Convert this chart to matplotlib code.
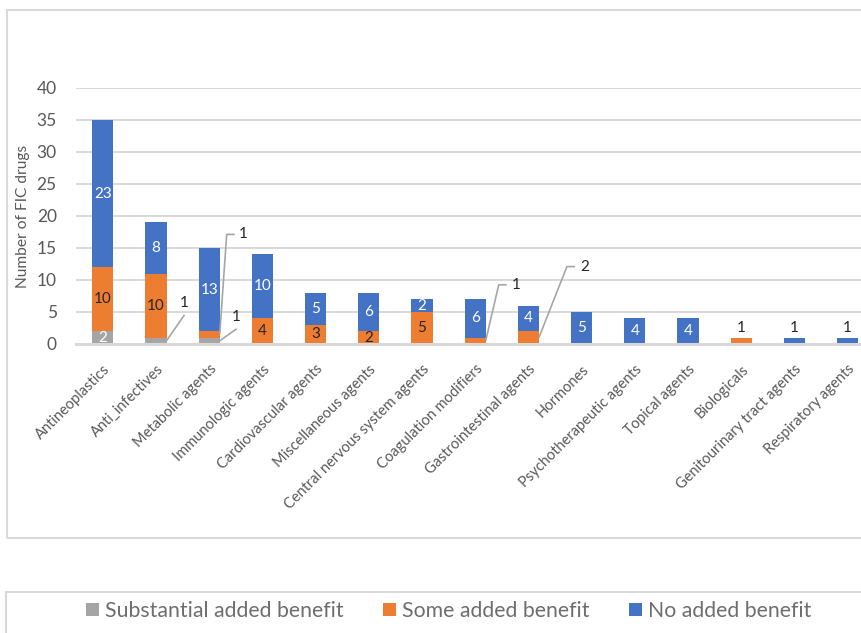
import matplotlib
matplotlib.use("Agg")
import matplotlib.pyplot as plt
from matplotlib.patches import Patch, Rectangle
import numpy as np

categories = [
    "Antineoplastics", "Anti_infectives", "Metabolic agents", "Immunologic agents",
    "Cardiovascular agents", "Miscellaneous agents", "Central nervous system agents",
    "Coagulation modifiers", "Gastrointestinal agents", "Hormones",
    "Psychotherapeutic agents", "Topical agents", "Biologicals",
    "Genitourinary tract agents", "Respiratory agents",
]
substantial = [2, 1, 1, 0, 0, 0, 0, 0, 0, 0, 0, 0, 0, 0, 0]
some = [10, 10, 1, 4, 3, 2, 5, 1, 2, 0, 0, 0, 1, 0, 0]
none_added = [23, 8, 13, 10, 5, 6, 2, 6, 4, 5, 4, 4, 0, 1, 1]
series_names = ["Substantial added benefit", "Some added benefit", "No added benefit"]
y_ticks = [0, 5, 10, 15, 20, 25, 30, 35, 40]

colors = ["#A5A5A5", "#ED7D31", "#4472C4"]
label_colors = ["white", "#262626", "white"]
text_grey = "#595959"
legend_grey = "#6E6E6E"
grid_grey = "#D9D9D9"
FONT = "Lato"

plt.rcParams["font.family"] = [FONT, "DejaVu Sans"]

W, H = 862, 633
fig = plt.figure(figsize=(W / 100, H / 100), dpi=100)

# plot area in pixel geometry (extends slightly past the right edge)
left_px, right_px, top_px, bottom_px = 76.2, 874.2, 88.0, 344.0
plot_w = right_px - left_px
ax = fig.add_axes([left_px / W, 1 - bottom_px / H,
                   plot_w / W, (bottom_px - top_px) / H])

x = np.arange(len(categories))
bar_w = 0.395
data = [substantial, some, none_added]
bottoms = np.zeros(len(categories))
bars = []
for vals, c in zip(data, colors):
    ax.bar(x, vals, bar_w, bottom=bottoms, color=c, zorder=3, linewidth=0)
    bars.append((np.array(vals), bottoms.copy()))
    bottoms += np.array(vals)

ax.set_xlim(-0.5, len(categories) - 0.5)
ax.set_ylim(0, 40)
ax.set_yticks(y_ticks)
ax.yaxis.grid(True, color=grid_grey, linewidth=1.4, zorder=0)
ax.set_axisbelow(True)
for s in ["top", "right", "left"]:
    ax.spines[s].set_visible(False)
ax.spines["bottom"].set_color(grid_grey)
ax.spines["bottom"].set_linewidth(2.2)
ax.spines["bottom"].set_zorder(4)
ax.tick_params(axis="both", length=0, colors=text_grey, labelsize=12.5)
ax.tick_params(axis="y", pad=14)
ax.set_xticks(x)
ax.set_xticklabels(categories, rotation=45, ha="right", rotation_mode="anchor",
                   fontsize=10.5, color=text_grey)
ax.tick_params(axis="x", pad=13)
ax.set_ylabel("Number of FIC drugs", fontsize=11.2, color=text_grey)
ax.yaxis.set_label_coords((30 - left_px) / plot_w, 0.5)

# callout labels: (category index, series index) -> (label dx, label dy, elbow dx) in pixels
callouts = {
    (1, 0): (18, 38, None),
    (2, 0): (17, 24, None),
    (2, 1): (24, 100, 7),
    (7, 1): (31, 56, 13),
    (8, 1): (46, 71, 28),
}
leader_grey = "#A6A6A6"
px2data_y = 40 / (bottom_px - top_px)
px2data_x = len(categories) / plot_w

for si, (vals, bots) in enumerate(bars):
    for ci, (v, b) in enumerate(zip(vals, bots)):
        if v == 0:
            continue
        mid = b + v / 2
        if (ci, si) in callouts:
            dx, dy, elbow = callouts[(ci, si)]
            ax0 = ci + bar_w / 2
            lx = ax0 + dx * px2data_x
            ly = mid + dy * px2data_y
            if elbow is None:
                xs = [ax0, lx]
                ys = [mid, ly - 12 * px2data_y]
            else:
                ex = ax0 + elbow * px2data_x
                xs = [ax0, ex, ex + 8 * px2data_x]
                ys = [mid, ly, ly]
            ax.plot(xs, ys, color=leader_grey, lw=1.2, zorder=5, clip_on=False,
                    solid_capstyle="butt")
            ax.text(lx, ly, f"{int(v)}", ha="center", va="center", fontsize=11,
                    color="#262626", zorder=6, clip_on=False)
        elif v == 1:
            ax.text(ci, b + v + 0.35, f"{int(v)}", ha="center", va="bottom",
                    fontsize=11, color="#262626", zorder=6)
        else:
            ax.text(ci, mid, f"{int(v)}", ha="center", va="center", fontsize=11,
                    color=label_colors[si], zorder=6)

# chart frame and legend frame
fig.patches.append(Rectangle((7 / W, 1 - 538 / H), 2, (538 - 10) / H,
                             transform=fig.transFigure, fill=False,
                             edgecolor=grid_grey, linewidth=1.5))
fig.patches.append(Rectangle((6 / W, -0.5), 2, 1 - 592 / H + 0.5,
                             transform=fig.transFigure, fill=False,
                             edgecolor=grid_grey, linewidth=1.5))

handles = [Patch(facecolor=c, edgecolor="none") for c in colors]
fig.legend(handles, series_names, loc="center left",
           bbox_to_anchor=(86 / W, 1 - 611 / H), ncol=3, frameon=False,
           fontsize=15.3, handlelength=0.6, handleheight=0.6,
           handletextpad=0.3, columnspacing=1.85, labelcolor=legend_grey,
           borderpad=0, borderaxespad=0)

fig.savefig("out.png", dpi=100)
